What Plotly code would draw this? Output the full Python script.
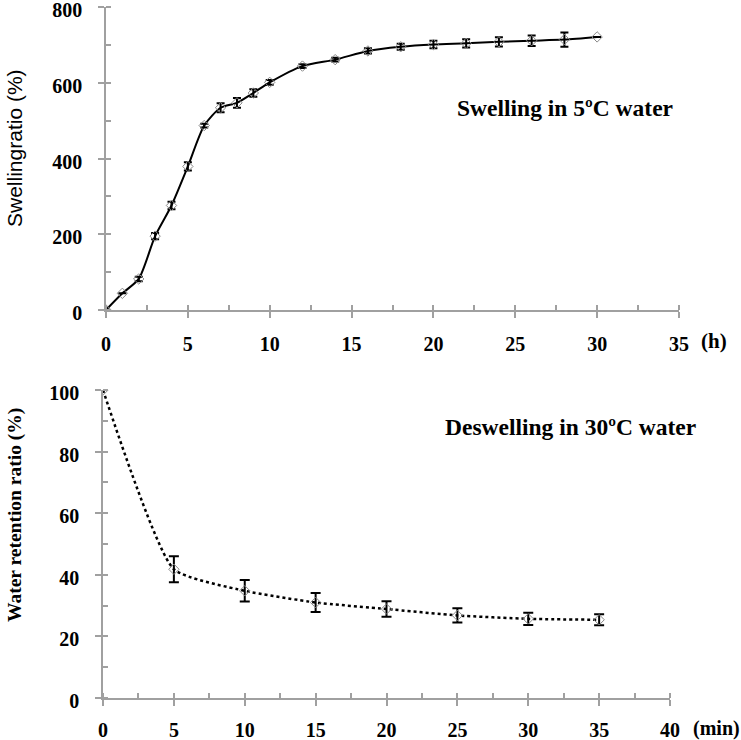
import plotly.graph_objects as go

# ---- data ----
swell_time_h = [0, 1, 2, 3, 4, 5, 6, 7, 8, 9, 10, 12, 14, 16, 18, 20, 22, 24, 26, 28, 30]
swell_ratio = [0, 44, 82, 195, 276, 379, 487, 534, 547, 573, 601, 644, 661, 684, 695, 701, 704, 708, 711, 714, 721]
swell_err = [0, 0, 6, 8, 10, 11, 5, 12, 13, 10, 6, 5, 5, 7, 8, 10, 11, 12, 14, 19, 0]

deswell_time_min = [0, 5, 10, 15, 20, 25, 30, 35]
retention_ratio = [100, 41.8, 34.8, 31.0, 28.9, 26.8, 25.7, 25.4]
retention_err = [0, 4.2, 3.5, 3.1, 2.5, 2.3, 2.0, 1.8]

top_xticks = [0, 5, 10, 15, 20, 25, 30, 35]
top_yticks = [0, 200, 400, 600, 800]
bot_xticks = [0, 5, 10, 15, 20, 25, 30, 35, 40]
bot_yticks = [0, 20, 40, 60, 80, 100]

W, H = 741, 740
SERIF = "Liberation Serif, Times New Roman, serif"
AX = "#a0a0a0"

fig = go.Figure()

fig.add_trace(go.Scatter(
    x=swell_time_h, y=swell_ratio, mode="lines+markers",
    line=dict(color="black", width=2, shape="spline", smoothing=0.7),
    marker=dict(symbol="diamond-open", size=8, color="#888888", line=dict(width=1)),
    error_y=dict(type="data", array=swell_err, color="black", thickness=2, width=4),
    xaxis="x", yaxis="y", showlegend=False))

fig.add_trace(go.Scatter(
    x=deswell_time_min, y=retention_ratio, mode="lines+markers",
    line=dict(color="black", width=2.5, shape="spline", smoothing=0.5, dash="dot"),
    marker=dict(symbol="diamond-open", size=8, color="#888888", line=dict(width=1)),
    error_y=dict(type="data", array=retention_err, color="black", thickness=2, width=5),
    xaxis="x2", yaxis="y2", showlegend=False))

tickfont = dict(family=SERIF, size=20, color="black", weight="bold")

def xax(domain, rng, ticks, minor_dtick, anchor, standoff):
    return dict(domain=domain, range=rng, tickvals=ticks, anchor=anchor, automargin=False,
                showline=True, linecolor=AX, linewidth=1.5, showgrid=False, zeroline=False,
                ticks="outside", ticklen=6, tickcolor=AX, tickwidth=1.5,
                minor=dict(ticks="inside", ticklen=5, tickcolor=AX, tickwidth=1.5, dtick=minor_dtick, showgrid=False),
                tickfont=tickfont, ticklabelstandoff=standoff, ticklabeloverflow="allow")

def yax(domain, rng, ticks, minor_dtick, anchor):
    return dict(domain=domain, range=rng, tickvals=ticks, anchor=anchor, automargin=False,
                showline=True, linecolor=AX, linewidth=1.5, showgrid=False, zeroline=False,
                ticks="outside", ticklen=6, tickcolor=AX, tickwidth=1.5,
                minor=dict(ticks="inside", ticklen=5, tickcolor=AX, tickwidth=1.5, dtick=minor_dtick, showgrid=False),
                tickfont=tickfont, ticklabelstandoff=12, ticklabelshift=3, ticklabeloverflow="allow")

fig.update_layout(
    width=W, height=H, margin=dict(l=0, r=0, t=0, b=0, autoexpand=False),
    paper_bgcolor="white", plot_bgcolor="white",
    xaxis=xax([106 / W, 679 / W], [0, 35], top_xticks, 2.5, "y", 9),
    yaxis=yax([1 - 310 / H, 1 - 7 / H], [0, 800], top_yticks, 100, "x"),
    xaxis2=xax([103 / W, 670 / W], [0, 40], bot_xticks, 2.5, "y2", 7),
    yaxis2=yax([1 - 698 / H, 1 - 390 / H], [0, 100], bot_yticks, 10, "x2"),
)

ann = [
    dict(text="Swelling in 5ºC water", x=565 / W, y=1 - 108 / H,
         font=dict(family=SERIF, size=23.5, color="black", weight="bold")),
    dict(text="Deswelling in 30ºC water", x=570 / W, y=1 - 427 / H,
         font=dict(family=SERIF, size=23.5, color="black", weight="bold")),
    dict(text="(h)", x=714 / W, y=1 - 341 / H,
         font=dict(family=SERIF, size=21, color="black", weight="bold")),
    dict(text="(min)", x=716 / W, y=1 - 728 / H,
         font=dict(family=SERIF, size=20, color="black", weight="bold")),
    dict(text="Swellingratio (%)", x=15 / W, y=1 - 148 / H, textangle=-90,
         font=dict(family="Liberation Sans, Arial, sans-serif", size=21, color="black")),
    dict(text="Water retention ratio (%)", x=15 / W, y=1 - 515 / H, textangle=-90,
         font=dict(family=SERIF, size=19.5, color="black", weight="bold")),
]
for a in ann:
    a.update(xref="paper", yref="paper", showarrow=False, xanchor="center", yanchor="middle")
fig.update_layout(annotations=ann)

fig.write_html("out.html", config={"displayModeBar": False},
               post_script="document.body.style.margin='0';document.body.style.overflow='hidden';")
